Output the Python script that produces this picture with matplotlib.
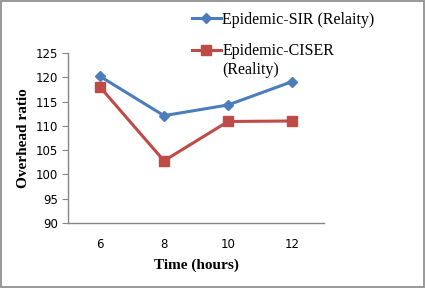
import matplotlib.pyplot as plt
from matplotlib.patches import Rectangle

# data
hours = ["6", "8", "10", "12"]
sir_reality = [120.2, 112.1, 114.3, 119.1]
ciser_reality = [118.0, 102.8, 110.9, 111.0]

blue = "#4A7EBB"
red = "#BE4B48"
grey = "#868686"

fig = plt.figure(figsize=(4.26, 2.90), dpi=100)
ax = fig.add_axes([68 / 426, 1 - 223 / 290, 256 / 426, 170 / 290])

x = range(len(hours))
ax.plot(x, sir_reality, color=blue, lw=2.2, marker="D", ms=5.5,
        label="Epidemic-SIR (Relaity)")
ax.plot(x, ciser_reality, color=red, lw=2.2, marker="s", ms=7,
        label="Epidemic-CISER")

ax.set_xlim(-0.5, len(hours) - 0.5)
ax.set_ylim(90, 125)
ax.set_yticks(range(90, 126, 5))
ax.set_xticks(list(x))
ax.set_xticklabels(hours)

for side in ("top", "right"):
    ax.spines[side].set_visible(False)
for side in ("left", "bottom"):
    ax.spines[side].set_color(grey)
    ax.spines[side].set_linewidth(1.0)
ax.tick_params(axis="y", length=4, color=grey, labelsize=8.5, pad=3)
ax.tick_params(axis="x", length=0, labelsize=8.5, pad=11)

ax.set_xlabel("Time (hours)", family="Liberation Serif", weight="bold",
              fontsize=11, labelpad=5)
ax.set_ylabel("Overhead ratio", family="Liberation Serif", weight="bold",
              fontsize=11, labelpad=4)

leg_font = {"family": "Liberation Serif", "size": 11.5}
leg = ax.legend(loc="upper left", bbox_to_anchor=(184 / 426, 1 - 4 / 290),
                bbox_transform=fig.transFigure, frameon=False, prop=leg_font,
                handlelength=1.8, handletextpad=0.1, labelspacing=0.97,
                borderpad=0)

# second line of the CISER legend label, under its first line
fig.canvas.draw()
bb = leg.texts[1].get_window_extent()
fig.text(bb.x0 / fig.bbox.width, (bb.y0 - 3) / fig.bbox.height, "(Reality)",
         va="top", ha="left", fontdict=leg_font)

# grey frame round the whole picture
fig.patches.append(Rectangle((0.003, 0.012), 0.993, 0.983,
                             transform=fig.transFigure, fill=False,
                             edgecolor=grey, lw=1.2))

fig.savefig("out.png", dpi=100)
